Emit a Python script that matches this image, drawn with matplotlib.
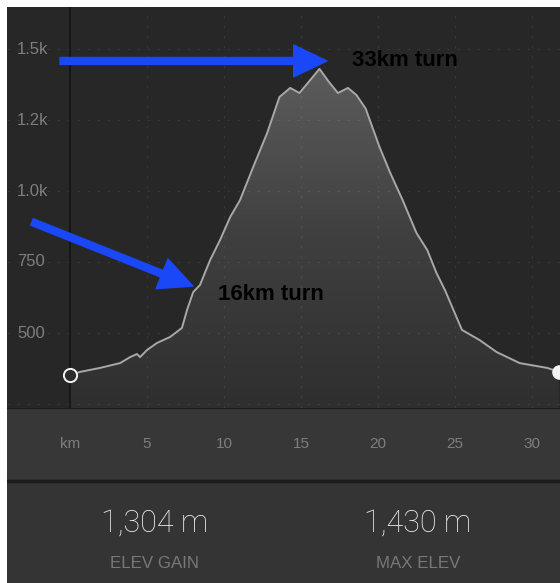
import numpy as np
import matplotlib
matplotlib.use('Agg')
import matplotlib.pyplot as plt
from matplotlib.patches import FancyArrowPatch, Polygon

# Du lieu doc tu hinh: khoang cach (km) va do cao (m)
km = [0, 0.65, 1.95, 3.25, 3.9, 4.35, 4.55, 5.0, 5.65, 6.5, 7.27, 7.6, 8.0,
      8.44, 9.1, 9.74, 10.4, 11.04, 11.9, 12.8, 13.6, 14.3, 14.9, 16.2, 16.8,
      17.4, 18.05, 18.6, 19.2, 20.1, 20.8, 21.6, 22.5, 23.2, 23.8, 24.35,
      24.9, 25.45, 26.6, 27.7, 29.2, 31.0, 31.75]
elev = [352, 363, 377, 394, 415, 426, 415, 440, 465, 486, 518, 581, 644,
        669, 757, 827, 908, 968, 1085, 1204, 1331, 1363, 1345, 1430, 1385,
        1345, 1363, 1338, 1290, 1155, 1063, 968, 852, 792, 711, 651,
        581, 511, 475, 433, 394, 377, 363]

ytick_vals = [500, 750, 1000, 1250, 1500]
ytick_labels = ['500', '750', '1.0k', '1.2k', '1.5k']
xtick_vals = [5, 10, 15, 20, 25, 30]
stat_values = ['1,304 m', '1,430 m']
stat_names = ['ELEV GAIN', 'MAX ELEV']

W, H = 560, 583
fig = plt.figure(figsize=(W / 100, H / 100), dpi=100, facecolor='white')


def px_axes(x0, y0, x1, y1, mau):
    # toa do pixel (goc tren trai) -> vi tri axes, an vien va vach chia
    a = fig.add_axes([x0 / W, 1 - y1 / H, (x1 - x0) / W, (y1 - y0) / H])
    a.set_facecolor(mau)
    a.set_xticks([])
    a.set_yticks([])
    for s in a.spines.values():
        s.set_visible(False)
    return a


xlim = ((7 - 70) / 15.4, (560 - 70) / 15.4)

# --- Bieu do chinh ---
ax = px_axes(7, 7, 560, 408, '#272727')
ax.set_xlim(*xlim)
ax.set_ylim(500 - 75 / 0.284, 500 + 326 / 0.284)

# luoi net dut mo, ve de len vung to mau
grid_kw = dict(color='white', alpha=0.07, lw=0.9, ls=(0, (2, 6)), zorder=2.5)
for v in [250] + ytick_vals:
    ax.axhline(v, **grid_kw)
for v in xtick_vals:
    ax.axvline(v, **grid_kw)
ax.axvline(0, color='#131313', lw=1.2, zorder=4)

for v, lab in zip(ytick_vals, ytick_labels):
    ax.text(0.018, v, lab, transform=ax.get_yaxis_transform(), ha='left',
            va='center', fontsize=12, color='#7e7e7e', family='Liberation Sans')

# vung to mau gradient duoi duong cao do
y0 = ax.get_ylim()[0]
poly = Polygon(list(zip(km, elev)) + [(km[-1], y0), (km[0], y0)],
               closed=True, facecolor='none', edgecolor='none')
ax.add_patch(poly)
grad = np.linspace(0, 1, 256).reshape(-1, 1)
cmap = matplotlib.colors.LinearSegmentedColormap.from_list(
    'g', ['#2f2f2f', '#3f3f3f', '#5c5c5c'])
im = ax.imshow(grad, extent=[km[0], km[-1], y0, max(elev)], origin='lower',
               aspect='auto', cmap=cmap, zorder=2)
im.set_clip_path(poly)

ax.plot(km, elev, color='#a8a8a8', lw=1.4, zorder=3)
ax.plot(km[0], elev[0], 'o', ms=9.5, mfc='#2c2c2c', mec='#f2f2f2', mew=1.4,
        zorder=5, clip_on=False)
ax.plot(km[-1], elev[-1], 'o', ms=9.5, mfc='#f2f2f2', mec='#f2f2f2', zorder=5)

# mui ten mau xanh va chu thich
style = 'simple,head_length=24,head_width=23,tail_width=5'
a1 = FancyArrowPatch(((60 - 70) / 15.4, 1458), ((327 - 70) / 15.4, 1458),
                     arrowstyle=style, color='#1a48f7', shrinkA=0, shrinkB=0,
                     zorder=6)
a2 = FancyArrowPatch(((32 - 70) / 15.4, 891), ((193 - 70) / 15.4, 665),
                     arrowstyle=style, color='#1a48f7', shrinkA=0, shrinkB=0,
                     zorder=6)
ax.add_patch(a1)
ax.add_patch(a2)
ax.text((352 - 70) / 15.4, 1458, '33km turn', ha='left', va='center',
        fontsize=16, fontweight='bold', color='black',
        family='Liberation Sans', zorder=7)
ax.text((218 - 70) / 15.4, 635, '16km turn', ha='left', va='center',
        fontsize=16, fontweight='bold', color='black',
        family='Liberation Sans', zorder=7)

# --- Truc km ---
bx = px_axes(7, 408, 560, 479, '#373737')
bx.set_xlim(*xlim)
bx.set_ylim(0, 1)
bx.axhline(1, color='#1c1c1c', lw=1.5)
bx.text(0, 0.5, 'km', ha='center', va='center', fontsize=11,
        color='#7e7e7e', family='Liberation Sans')
for v in xtick_vals:
    bx.text(v, 0.5, str(v), ha='center', va='center', fontsize=11,
            color='#7e7e7e', family='Liberation Sans')

# --- Thong so ---
sx = px_axes(7, 479, 560, 583, '#343434')
sx.set_xlim(7, 560)
sx.set_ylim(583, 479)
sx.axhline(480.5, color='#1c1c1c', lw=2.5)
for xc, val, name in zip([155, 418], stat_values, stat_names):
    sx.text(xc, 523, val, ha='center', va='center', fontsize=22,
            color='#f0f0f0', family='Roboto', fontweight='light')
    sx.text(xc, 563, name, ha='center', va='center', fontsize=12.2,
            color='#787878', family='Liberation Sans')

fig.savefig('out.png', dpi=100, facecolor='white')
